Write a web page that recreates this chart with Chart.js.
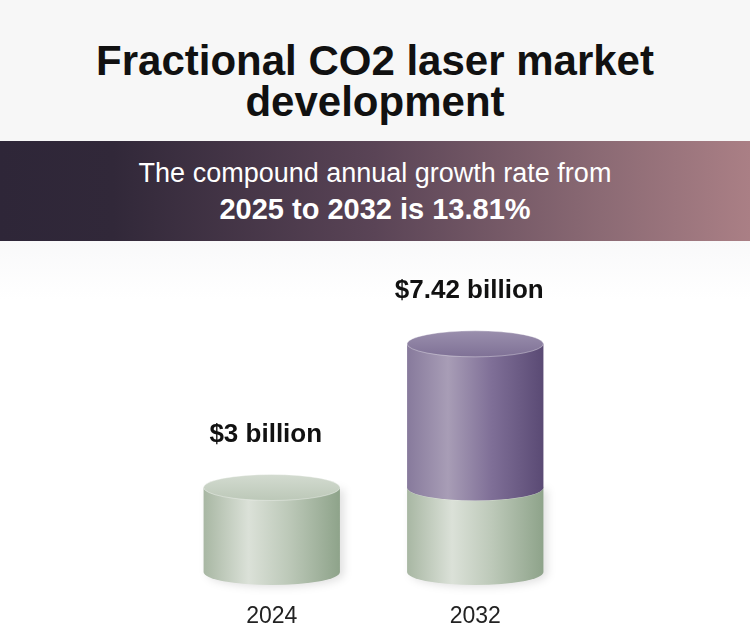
<!DOCTYPE html>
<html>
<head>
<meta charset="utf-8">
<script src="https://cdn.jsdelivr.net/npm/chart.js@4/dist/chart.umd.min.js"></script>
<style>
  html, body { margin: 0; padding: 0; }
  body {
    width: 750px; height: 641px; position: relative; overflow: hidden;
    background: linear-gradient(#f9f9fa 241px, #ffffff 300px);
    font-family: "Liberation Sans", Arial, Helvetica, sans-serif;
  }
  #title {
    position: absolute; left: 0; top: 0; width: 750px; height: 141px;
    background: #f7f7f7; box-sizing: border-box; padding-top: 40px;
    text-align: center; font-size: 42px; line-height: 41px; font-weight: bold; color: #111;
  }
  #banner {
    position: absolute; left: 0; top: 141px; width: 750px; height: 100px;
    box-sizing: border-box; padding-top: 14px; text-align: center; color: #fff;
    background: linear-gradient(90deg, #2e2638 0%, #312839 15%, #5a4456 50%, #8b6a74 80%, #aa7f85 100%);
  }
  #banner .l1 { font-size: 27px; line-height: 36px; }
  #banner .l2 { font-size: 29px; line-height: 36px; font-weight: bold; }
  #chart { position: absolute; left: 0; top: 0; }
</style>
</head>
<body>
<div id="title">Fractional CO2 laser market<br>development</div>
<div id="banner">
  <div class="l1">The compound annual growth rate from</div>
  <div class="l2">2025 to 2032 is 13.81%</div>
</div>
<canvas id="chart" width="750" height="641"></canvas>
<script>
const years = ["2024", "2032"];
const baseSize = [3, 3];        // 2024 market level, shown as the green part
const growthSize = [0, 4.42];   // added by 2032 (7.42 - 3)
const valueLabels = ["$3 billion", "$7.42 billion"];

const fontFamily = '"Liberation Sans", Arial, Helvetica, sans-serif';

const bodyColors = [
  [[0, "#a8b7a3"], [0.33, "#dbe1d8"], [0.62, "#bdc9b9"], [1, "#8ea38a"]],
  [[0, "#877a9c"], [0.3, "#a89db6"], [0.62, "#7f6f97"], [1, "#5a4a74"]]
];
const topColors = [
  ["#d3dbd0", "#bcc8b8"],
  ["#9a8fad", "#7f7196"]
];

const cylinderPlugin = {
  id: "cylinders",
  afterDatasetsDraw(chart) {
    const ctx = chart.ctx;
    const ry = 13;
    const zeroY = chart.scales.y.getPixelForValue(0);
    const tops = [];

    chart.data.datasets.forEach((ds, di) => {
      const meta = chart.getDatasetMeta(di);
      meta.data.forEach((bar, i) => {
        if (!ds.data[i]) return;
        const { x, y, base, width } = bar.getProps(["x", "y", "base", "width"], true);
        const rx = width / 2;
        const onFloor = Math.abs(base - zeroY) < 1;
        const bottom = onFloor ? base - ry : base;

        // body
        ctx.save();
        const g = ctx.createLinearGradient(x - rx, 0, x + rx, 0);
        bodyColors[di].forEach(s => g.addColorStop(s[0], s[1]));
        ctx.fillStyle = g;
        if (onFloor) {
          ctx.shadowColor = "rgba(0,0,0,0.12)";
          ctx.shadowBlur = 8;
          ctx.shadowOffsetX = 4;
          ctx.shadowOffsetY = 2;
        }
        ctx.beginPath();
        ctx.moveTo(x - rx, y);
        ctx.lineTo(x - rx, bottom);
        ctx.ellipse(x, bottom, rx, ry, 0, Math.PI, 0, true);
        ctx.lineTo(x + rx, y);
        ctx.closePath();
        ctx.fill();
        ctx.restore();

        // top face
        ctx.save();
        const tg = ctx.createLinearGradient(0, y - ry, 0, y + ry);
        tg.addColorStop(0, topColors[di][0]);
        tg.addColorStop(1, topColors[di][1]);
        ctx.fillStyle = tg;
        ctx.beginPath();
        ctx.ellipse(x, y, rx, ry, 0, 0, Math.PI * 2);
        ctx.fill();
        ctx.strokeStyle = "rgba(255,255,255,0.35)";
        ctx.lineWidth = 1;
        ctx.stroke();
        ctx.restore();

        if (tops[i] === undefined || y < tops[i].y) tops[i] = { x, y };
      });
    });

    // value labels above each cylinder
    ctx.save();
    ctx.fillStyle = "#111";
    ctx.font = "bold 26px " + fontFamily;
    ctx.textAlign = "center";
    ctx.textBaseline = "middle";
    tops.forEach((t, i) => {
      if (!t) return;
      ctx.fillText(valueLabels[i], t.x - 6, t.y - 53);
    });
    ctx.restore();
  }
};

const ctx = document.getElementById("chart").getContext("2d");
new Chart(ctx, {
  type: "bar",
  data: {
    labels: years,
    datasets: [
      { label: "2024 market", data: baseSize, backgroundColor: "rgba(0,0,0,0)" },
      { label: "Growth to 2032", data: growthSize, backgroundColor: "rgba(0,0,0,0)" }
    ]
  },
  options: {
    responsive: false,
    animation: false,
    devicePixelRatio: 1,
    layout: { padding: { top: 260, left: 170, right: 173, bottom: 0 } },
    datasets: { bar: { categoryPercentage: 1, barPercentage: 0.67 } },
    plugins: { legend: { display: false }, tooltip: { enabled: false } },
    scales: {
      x: {
        stacked: true,
        grid: { display: false },
        border: { display: false },
        ticks: { padding: 10, color: "#222", font: { family: fontFamily, size: 23 } },
        afterFit(scale) { scale.height = 56; }
      },
      y: { stacked: true, display: false, min: 0, max: 10 }
    }
  },
  plugins: [cylinderPlugin]
});
</script>
</body>
</html>
